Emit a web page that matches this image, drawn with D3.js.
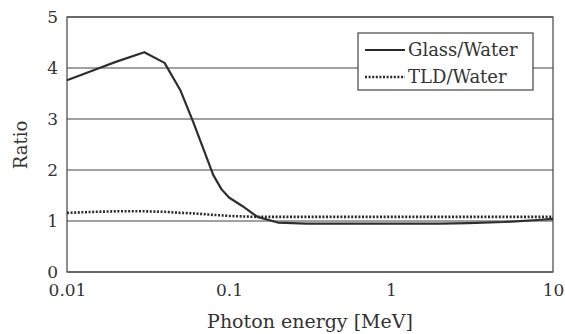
<!DOCTYPE html>
<html>
<head>
<meta charset="utf-8">
<script src="https://cdn.jsdelivr.net/npm/d3@7"></script>
<style>
  html, body { margin: 0; padding: 0; background: #fff; }
  svg { display: block; }
  text { font-family: "DejaVu Serif", "Liberation Serif", serif; fill: #333; }
</style>
</head>
<body>
<svg id="chart" width="565" height="334"></svg>
<script>
// Photon energy grid (MeV)
const energies = [0.01, 0.015, 0.02, 0.03, 0.04, 0.05, 0.06, 0.08, 0.09, 0.1, 0.12, 0.15, 0.2, 0.3, 0.5, 0.8, 1, 2, 3, 5, 8, 10];
// Dose ratios relative to water
const glassWater = [3.76, 3.97, 4.12, 4.31, 4.10, 3.57, 2.95, 1.90, 1.62, 1.46, 1.30, 1.08, 0.97, 0.95, 0.95, 0.95, 0.95, 0.95, 0.96, 0.98, 1.02, 1.04];
const tldWater   = [1.16, 1.18, 1.19, 1.19, 1.18, 1.16, 1.15, 1.12, 1.11, 1.10, 1.09, 1.08, 1.08, 1.08, 1.08, 1.08, 1.08, 1.08, 1.08, 1.08, 1.08, 1.08];
const seriesNames = ["Glass/Water", "TLD/Water"];
const xTicks = [0.01, 0.1, 1, 10];
const xTickLabels = ["0.01", "0.1", "1", "10"];
const yTicks = [0, 1, 2, 3, 4, 5];
const xTitle = "Photon energy [MeV]";
const yTitle = "Ratio";

const svg = d3.select("#chart");
const margin = { left: 67, right: 12, top: 17, bottom: 62 };
const W = 565, H = 334;
const x = d3.scaleLog().domain([0.01, 10]).range([margin.left, W - margin.right]);
const y = d3.scaleLinear().domain([0, 5]).range([H - margin.bottom, margin.top]);

const ink = "#333";

// Horizontal gridlines
svg.append("g").selectAll("line").data(yTicks).join("line")
  .attr("x1", x(0.01)).attr("x2", x(10))
  .attr("y1", d => y(d)).attr("y2", d => y(d))
  .attr("stroke", "#444").attr("stroke-width", 1.2);

// Frame
svg.append("rect")
  .attr("x", x(0.01)).attr("y", y(5))
  .attr("width", x(10) - x(0.01)).attr("height", y(0) - y(5))
  .attr("fill", "none").attr("stroke", "#444").attr("stroke-width", 1.2);

// Y axis labels
const yAxis = d3.axisLeft(y).tickValues(yTicks).tickSize(0).tickPadding(9).tickFormat(d3.format("d"));
const gy = svg.append("g").attr("transform", `translate(${x(0.01)},0)`).call(yAxis);
gy.select(".domain").remove();
gy.selectAll("text").attr("font-size", 17).attr("font-family", "DejaVu Serif").attr("fill", ink);

// X axis labels
const xAxis = d3.axisBottom(x).tickValues(xTicks).tickSize(0).tickPadding(12)
  .tickFormat((d, i) => xTickLabels[i]);
const gx = svg.append("g").attr("transform", `translate(0,${y(0)})`).call(xAxis);
gx.select(".domain").remove();
gx.selectAll("text").attr("font-size", 17).attr("font-family", "DejaVu Serif").attr("fill", ink);

// Axis titles
svg.append("text").attr("x", 310).attr("y", 328)
  .attr("text-anchor", "middle").attr("font-size", 19).text(xTitle);
svg.append("text")
  .attr("transform", `translate(27,145) rotate(-90)`)
  .attr("text-anchor", "middle").attr("font-size", 18).text(yTitle);

// Curves (straight segments between tabulated energies)
const line = d3.line().x((d, i) => x(energies[i])).y(d => y(d));

svg.append("path").datum(tldWater)
  .attr("d", line).attr("fill", "none")
  .attr("stroke", "#2a2a2a").attr("stroke-width", 2.6)
  .attr("stroke-dasharray", "2,1.6");

svg.append("path").datum(glassWater)
  .attr("d", line).attr("fill", "none")
  .attr("stroke", "#2e2e2e").attr("stroke-width", 2.2)
  .attr("stroke-linejoin", "round");

// Legend
const lg = svg.append("g");
lg.append("rect").attr("x", 358).attr("y", 33).attr("width", 175).attr("height", 57)
  .attr("fill", "#fff").attr("stroke", "#444").attr("stroke-width", 1.2);
const legendItems = [
  { name: seriesNames[0], dash: null, w: 2.2 },
  { name: seriesNames[1], dash: "2,1.6", w: 2.6 }
];
legendItems.forEach((it, i) => {
  const cy = 50 + i * 27;
  lg.append("line").attr("x1", 365).attr("x2", 405).attr("y1", cy).attr("y2", cy)
    .attr("stroke", "#2a2a2a").attr("stroke-width", it.w)
    .attr("stroke-dasharray", it.dash);
  lg.append("text").attr("x", 408).attr("y", cy + 6).attr("font-size", 18).text(it.name);
});
</script>
</body>
</html>
